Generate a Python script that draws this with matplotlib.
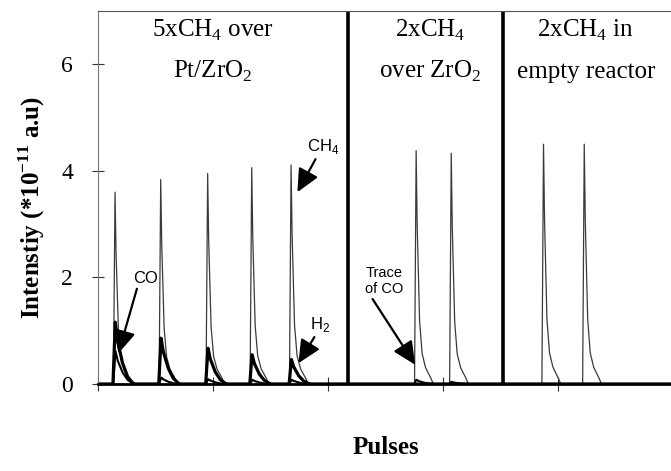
"""Pulse response of CH4 over Pt/ZrO2, ZrO2 and an empty reactor."""

import matplotlib

matplotlib.use("Agg")
import matplotlib.pyplot as plt
import numpy as np

plt.rcParams["mathtext.fontset"] = "custom"
plt.rcParams["mathtext.rm"] = "Liberation Serif"
plt.rcParams["mathtext.bf"] = "Liberation Serif:bold"
plt.rcParams["mathtext.sf"] = "Liberation Sans"

SERIF = "Liberation Serif"
SANS = "Liberation Sans"

# pulse positions (x axis units, one tick = 1) and peak heights (*1e-11 a.u.)
CH4_POS = [0.148, 0.545, 0.953, 1.336, 1.678, 2.765, 3.070, 3.872, 4.226]
CH4_HEIGHT = [3.60, 3.84, 3.95, 4.06, 4.11, 4.38, 4.33, 4.50, 4.50]
H2_POS = [0.150, 0.548, 0.956, 1.339, 1.681]
H2_HEIGHT = [1.16, 0.86, 0.67, 0.55, 0.46]
CO_POS = [0.152, 0.550, 0.958, 1.341, 1.683, 2.767, 3.072]
CO_HEIGHT = [0.62, 0.12, 0.09, 0.08, 0.08, 0.08, 0.04]

# peak shapes: offset from the peak, fraction of peak height
CH4_OFFSET = [-0.014, 0.0, 0.009, 0.030, 0.052, 0.082, 0.128, 0.150]
CH4_FRAC = [0.0, 1.0, 0.68, 0.27, 0.13, 0.07, 0.025, 0.0]
H2_OFFSET = [-0.020, 0.0, 0.020, 0.063, 0.107, 0.150, 0.170]
H2_FRAC = [0.0, 1.0, 0.70, 0.34, 0.12, 0.02, 0.0]

DIVIDERS = [2.17, 3.52]
TITLE_X = [1.0, 2.89, 4.24]
TITLE_TOP = ["5xCH$_4$ over", "2xCH$_4$", "2xCH$_4$ in"]
TITLE_BOTTOM = ["Pt/ZrO$_2$", "over ZrO$_2$", "empty reactor"]


def _trace(positions, heights, offsets, fractions):
    xs, ys = [0.0], [0.0]
    for pos, height in zip(positions, heights):
        xs.extend(pos + np.asarray(offsets))
        ys.extend(height * np.asarray(fractions))
    xs.append(5.0)
    ys.append(0.0)
    return np.asarray(xs), np.asarray(ys)


fig = plt.figure(figsize=(6.71, 4.71), dpi=100, facecolor="white")
ax = fig.add_axes([98 / 671, 1 - 384 / 471, 573 / 671, 373 / 471])

x, y = _trace(CH4_POS, CH4_HEIGHT, CH4_OFFSET, CH4_FRAC)
ax.plot(x, y, color="#3a3a3a", lw=0.9)
x, y = _trace(CO_POS, CO_HEIGHT, H2_OFFSET, H2_FRAC)
ax.plot(x, y, color="black", lw=1.5)
x, y = _trace(H2_POS, H2_HEIGHT, H2_OFFSET, H2_FRAC)
ax.plot(x, y, color="black", lw=2.3)

for pos in DIVIDERS:
    ax.axvline(pos, color="black", lw=2.6)
for xc, top, bottom in zip(TITLE_X, TITLE_TOP, TITLE_BOTTOM):
    ax.text(xc, 6.64, top, ha="center", va="center", fontsize=18, family=SERIF)
    ax.text(xc, 5.86, bottom, ha="center", va="center", fontsize=18, family=SERIF)

arrow = dict(arrowstyle="-|>,head_length=0.7,head_width=0.33", color="black",
             lw=1.6, mutation_scale=20, shrinkA=0, shrinkB=0)
ax.annotate("CH$_\\mathsf{4}$", xy=(1.733, 3.60), xytext=(1.96, 4.45),
            ha="center", va="center", fontsize=12, family=SANS,
            arrowprops=dict(arrow, relpos=(0.3, 0.0)))
ax.annotate("H$_\\mathsf{2}$", xy=(1.742, 0.39), xytext=(1.93, 1.11),
            ha="center", va="center", fontsize=12, family=SANS,
            arrowprops=dict(arrow, relpos=(0.3, 0.0)))
ax.annotate("CO", xy=(0.177, 0.575), xytext=(0.41, 1.98),
            ha="center", va="center", fontsize=12, family=SANS,
            arrowprops=dict(arrow, relpos=(0.2, 0.0)))
ax.annotate("Trace\nof CO", xy=(2.757, 0.36), xytext=(2.487, 1.93),
            ha="center", va="center", fontsize=10.5, family=SANS,
            arrowprops=dict(arrow, relpos=(0.15, 0.0)))

ax.set_xlim(0, 4.98)
ax.set_ylim(0, 7)
ax.set_xticks([0, 1, 2, 3, 4])
ax.set_xticklabels([])
ax.set_yticks([0, 2, 4, 6])
ax.set_yticklabels(["0", "2", "4", "6"], family=SERIF, fontsize=17)
ax.tick_params(axis="both", direction="inout", length=8, width=0.8,
               color="#333333", pad=14)
ax.tick_params(axis="x", length=10)
ax.spines["right"].set_visible(False)
ax.spines["left"].set_color("#777777")
ax.spines["left"].set_linewidth(0.8)
ax.spines["top"].set_color("#555555")
ax.spines["top"].set_linewidth(0.8)
ax.spines["bottom"].set_linewidth(2.0)

fig.text(32 / 671, 1 - 207 / 471, "Intenstiy (*10$^{\\mathbf{-11}}$ a.u)",
         rotation=90, ha="center", va="center", fontsize=18,
         family=SERIF, weight="bold")
fig.text(386 / 671, 1 - 448 / 471, "Pulses", ha="center", va="center",
         fontsize=18, family=SERIF, weight="bold")

fig.savefig("out.png", dpi=100, facecolor="white")
